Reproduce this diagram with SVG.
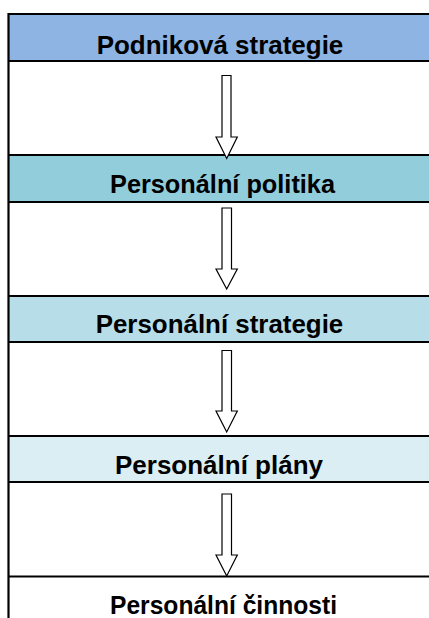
<svg xmlns="http://www.w3.org/2000/svg" width="429" height="618" viewBox="0 0 429 618">
<style>
.lbl{font-family:"Liberation Sans",Arial,sans-serif;font-weight:bold;font-size:26.5px;fill:#000}
.line{stroke:#000;stroke-width:2.2;fill:none}
.arrow{fill:#fff;stroke:#000;stroke-width:1.2;stroke-linejoin:miter}
</style>
<rect x="0" y="0" width="429" height="618" fill="#fff"/>
<g id="node-podnikova-strategie">
<rect x="8.5" y="14" width="421" height="47" fill="#8DB4E2"/>
<text class="lbl" x="96.7" y="54" textLength="246.6" lengthAdjust="spacingAndGlyphs">Podniková strategie</text>
</g>
<g id="node-personalni-politika">
<rect x="8.5" y="155" width="421" height="47" fill="#92CDDC"/>
<text class="lbl" x="110" y="193" textLength="225" lengthAdjust="spacingAndGlyphs">Personální politika</text>
</g>
<g id="node-personalni-strategie">
<rect x="8.5" y="296" width="421" height="46" fill="#B7DEE8"/>
<text class="lbl" x="95.7" y="333" textLength="247.6" lengthAdjust="spacingAndGlyphs">Personální strategie</text>
</g>
<g id="node-personalni-plany">
<rect x="8.5" y="436" width="421" height="46" fill="#DAEEF3"/>
<text class="lbl" x="115" y="474" textLength="208" lengthAdjust="spacingAndGlyphs">Personální plány</text>
</g>
<g id="node-personalni-cinnosti">
<text class="lbl" x="110" y="614" textLength="227" lengthAdjust="spacingAndGlyphs">Personální činnosti</text>
</g>
<g id="grid">
<path class="line" d="M8.5 13V618 M7.5 14H429 M7.5 61H429 M7.5 155H429 M7.5 202H429 M7.5 296H429 M7.5 342H429 M7.5 436H429 M7.5 482H429 M7.5 576.5H429"/>
</g>
<g id="connectors">
<path class="arrow" d="M222 75.5H231V137H237.3L226.7 158.5L216 137H222Z"/>
<path class="arrow" d="M222 208H231.5V269H237.3L226.7 289L216 269H222Z"/>
<path class="arrow" d="M222 350.5H231.5V411H237.3L226.7 432L216 411H222Z"/>
<path class="arrow" d="M222 494H231.5V555H237.3L226.7 576L216 555H222Z"/>
</g>
</svg>
